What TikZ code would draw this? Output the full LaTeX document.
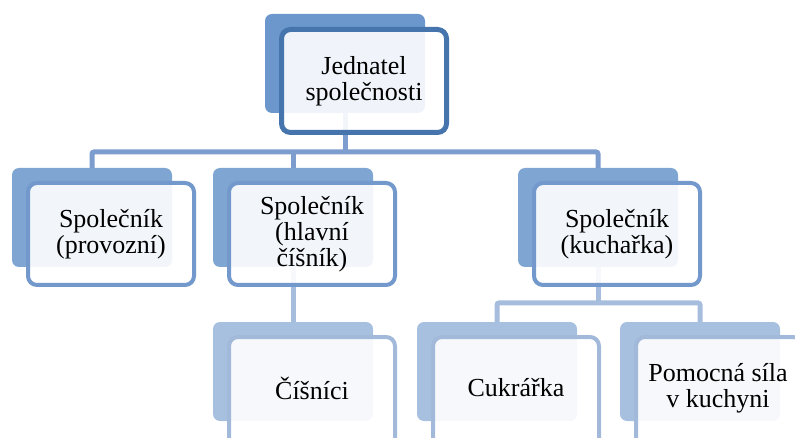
\documentclass[tikz,border=0pt]{standalone}
\usepackage{fontspec}
\setmainfont{Liberation Serif}
\definecolor{lvAback}{RGB}{107,151,205}
\definecolor{lvAline}{RGB}{70,116,172}
\definecolor{lvBback}{RGB}{127,165,211}
\definecolor{lvBline}{RGB}{115,152,203}
\definecolor{lvCback}{RGB}{168,192,223}
\definecolor{lvCline}{RGB}{162,185,217}
\definecolor{connA}{RGB}{124,157,206}
\definecolor{connB}{RGB}{166,189,222}
\begin{document}
\begin{tikzpicture}[x=1pt,y=-1pt,
  back/.style={rectangle, rounded corners=7pt, minimum width=160pt, minimum height=99pt, inner sep=0pt},
  front/.style={rectangle, rounded corners=9pt, minimum width=166pt, minimum height=102pt, line width=4pt, fill=white, fill opacity=0.9, draw opacity=1, inner sep=0pt},
  txt/.style={align=center, inner sep=0pt, font=\fontsize{26}{26}\selectfont},
  conn/.style={line width=5pt, rounded corners=2pt}
]
\useasboundingbox (0,0) rectangle (795,438);
\clip (0,0) rectangle (795,438);
% back shapes
\node[back, fill=lvAback] (b0) at (345,63.5) {};
\node[back, fill=lvBback] (b1) at (92,217.5) {};
\node[back, fill=lvBback] (b2) at (293,217.5) {};
\node[back, fill=lvBback] (b3) at (598,217.5) {};
\node[back, fill=lvCback] (b4) at (293,371.5) {};
\node[back, fill=lvCback] (b5) at (497,371.5) {};
\node[back, fill=lvCback] (b6) at (700,371.5) {};
% connectors
\coordinate (busA) at (0,152);
\coordinate (busB) at (0,303);
\draw[conn, draw=connA] (b1.north) -- (b1.north |- busA) -- (b3.north |- busA) -- (b3.north);
\draw[conn, draw=connA] (b0.south) -- (b0.south |- busA);
\draw[conn, draw=connA] (b2.north) -- (b2.north |- busA);
\draw[conn, draw=connB] (b2.south) -- (b4.north);
\draw[conn, draw=connB] (b5.north) -- (b5.north |- busB) -- (b6.north |- busB) -- (b6.north);
\draw[conn, draw=connB] (b3.south) -- (b3.south |- busB);
% front shapes
\node[front, draw=lvAline, line width=5pt, minimum width=165pt, minimum height=103pt] (f0) at (364,81) {};
\node[front, draw=lvBline] (f1) at (111,234) {};
\node[front, draw=lvBline] (f2) at (312,234) {};
\node[front, draw=lvBline] (f3) at (617,234) {};
\node[front, draw=lvCline, minimum height=116pt] (f4) at (312,395) {};
\node[front, draw=lvCline, minimum height=116pt] (f5) at (516,395) {};
\node[front, draw=lvCline, minimum height=116pt] (f6) at (719,395) {};
% texts
\node[txt] (t0) at (364,81) {Jednatel\\společnosti};
\node[txt] (t1) at (111,234) {Společník\\(provozní)};
\node[txt] (t2) at (312,234) {Společník\\(hlavní\\číšník)};
\node[txt] (t3) at (617,234) {Společník\\(kuchařka)};
\node[txt] (t4) at (312,388) {Číšníci};
\node[txt] (t5) at (516,388) {Cukrářka};
\node[txt] (t6) at (718,388) {Pomocná síla\\v kuchyni};
\end{tikzpicture}
\end{document}
